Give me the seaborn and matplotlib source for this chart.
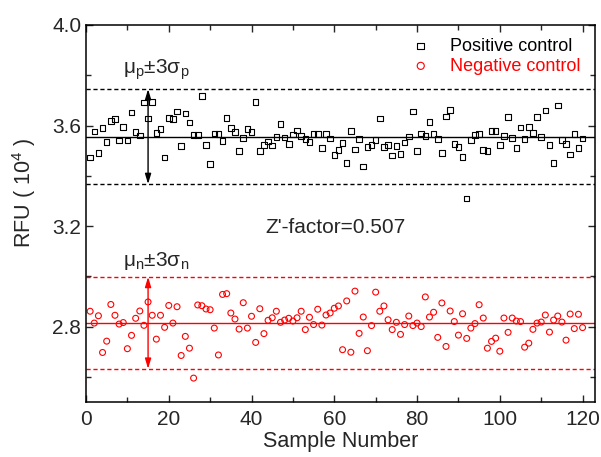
import numpy as np
import seaborn as sns
import matplotlib
matplotlib.use("Agg")
from matplotlib import pyplot as plt
from matplotlib.ticker import MultipleLocator, FormatStrFormatter

# values (RFU, x 10^4)
sample = np.arange(1, 121)

positive = [3.473, 3.577, 3.491, 3.591, 3.534, 3.619, 3.627, 3.541, 3.594, 3.541,
            3.652, 3.575, 3.561, 3.692, 3.628, 3.693, 3.571, 3.587, 3.473, 3.629,
            3.627, 3.655, 3.519, 3.647, 3.612, 3.562, 3.563, 3.718, 3.522, 3.446,
            3.569, 3.567, 3.539, 3.629, 3.591, 3.575, 3.498, 3.550, 3.587, 3.574,
            3.693, 3.498, 3.523, 3.537, 3.521, 3.555, 3.607, 3.553, 3.527, 3.565,
            3.580, 3.558, 3.546, 3.534, 3.566, 3.567, 3.510, 3.567, 3.549, 3.482,
            3.502, 3.531, 3.451, 3.579, 3.505, 3.547, 3.437, 3.515, 3.523, 3.542,
            3.628, 3.515, 3.522, 3.481, 3.519, 3.487, 3.533, 3.557, 3.656, 3.498,
            3.569, 3.558, 3.614, 3.567, 3.547, 3.490, 3.636, 3.661, 3.526, 3.514,
            3.475, 3.310, 3.543, 3.563, 3.567, 3.503, 3.499, 3.578, 3.578, 3.522,
            3.558, 3.635, 3.550, 3.510, 3.592, 3.547, 3.595, 3.571, 3.635, 3.554,
            3.659, 3.523, 3.451, 3.680, 3.542, 3.527, 3.485, 3.567, 3.510, 3.549]

negative = [2.861, 2.814, 2.843, 2.697, 2.742, 2.888, 2.845, 2.810, 2.816, 2.712,
            2.765, 2.833, 2.862, 2.805, 2.898, 2.845, 2.750, 2.845, 2.797, 2.884,
            2.814, 2.879, 2.685, 2.761, 2.714, 2.595, 2.886, 2.883, 2.870, 2.867,
            2.794, 2.687, 2.928, 2.931, 2.854, 2.830, 2.790, 2.895, 2.794, 2.841,
            2.737, 2.871, 2.772, 2.825, 2.835, 2.861, 2.817, 2.826, 2.833, 2.822,
            2.835, 2.861, 2.788, 2.837, 2.808, 2.869, 2.806, 2.846, 2.854, 2.873,
            2.882, 2.708, 2.902, 2.698, 2.941, 2.773, 2.838, 2.704, 2.804, 2.937,
            2.861, 2.882, 2.827, 2.788, 2.817, 2.769, 2.808, 2.842, 2.804, 2.814,
            2.800, 2.918, 2.838, 2.857, 2.757, 2.894, 2.721, 2.862, 2.820, 2.766,
            2.851, 2.753, 2.794, 2.812, 2.887, 2.834, 2.714, 2.741, 2.754, 2.702,
            2.834, 2.777, 2.834, 2.822, 2.820, 2.718, 2.734, 2.789, 2.814, 2.818,
            2.846, 2.778, 2.826, 2.842, 2.818, 2.746, 2.850, 2.792, 2.849, 2.796]

# mean and 3 sigma bands
pos_mean, pos_3sd = 3.556, 0.189
neg_mean, neg_3sd = 2.815, 0.183
zfactor = 0.507
arrow_x = 15

sns.set_style("ticks")
plt.rcParams['font.family'] = ['Liberation Sans', 'DejaVu Sans']
plt.rcParams['mathtext.fontset'] = 'custom'
plt.rcParams['mathtext.rm'] = 'Liberation Sans'
plt.rcParams['mathtext.it'] = 'Liberation Sans'

fig = plt.figure(figsize=(6.01, 4.57), dpi=100)
ax = fig.add_axes([0.1431, 0.1204, 0.8469, 0.8249])

# reference lines
ax.axhline(pos_mean, color="black", lw=1)
ax.axhline(pos_mean + pos_3sd, color="black", lw=1, ls=(0, (3, 2)))
ax.axhline(pos_mean - pos_3sd, color="black", lw=1, ls=(0, (3, 2)))
ax.axhline(neg_mean, color="red", lw=1)
ax.axhline(neg_mean + neg_3sd, color="red", lw=1, ls=(0, (3, 2)))
ax.axhline(neg_mean - neg_3sd, color="red", lw=1, ls=(0, (3, 2)))

sns.scatterplot(x=sample, y=positive, marker="s", s=16, facecolors="none",
                edgecolor="black", linewidth=0.8, label="Positive control", ax=ax)
sns.scatterplot(x=sample, y=negative, marker="o", s=18, facecolors="none",
                edgecolor="red", linewidth=0.8, label="Negative control", ax=ax)

# double arrows
ax.annotate("", xy=(arrow_x, pos_mean + pos_3sd), xytext=(arrow_x, pos_mean - pos_3sd),
            arrowprops=dict(arrowstyle="<|-|>,head_length=0.6,head_width=0.18",
                            color="black", lw=1, shrinkA=0, shrinkB=0))
ax.annotate("", xy=(arrow_x, neg_mean + neg_3sd), xytext=(arrow_x, neg_mean - neg_3sd),
            arrowprops=dict(arrowstyle="<|-|>,head_length=0.6,head_width=0.18",
                            color="red", lw=1, shrinkA=0, shrinkB=0))

ax.text(8.9, 3.772, r"$\mathregular{\mu_p{\pm}3\sigma_p}$", fontsize=15, va="bottom", ha="left")
ax.text(8.9, 3.017, r"$\mathregular{\mu_n{\pm}3\sigma_n}$", fontsize=15, va="bottom", ha="left")
ax.text(43.4, 3.196, f"Z'-factor={zfactor}", fontsize=15, va="center", ha="left")

ax.set_xlim(0, 123)
ax.set_ylim(2.5, 4.0)
ax.xaxis.set_major_locator(MultipleLocator(20))
ax.xaxis.set_minor_locator(MultipleLocator(10))
ax.yaxis.set_major_locator(MultipleLocator(0.4))
ax.yaxis.set_minor_locator(MultipleLocator(0.2))
ax.yaxis.set_major_formatter(FormatStrFormatter("%.1f"))
ax.tick_params(which="both", direction="in", top=True, right=True, labelsize=15, width=1)
ax.tick_params(which="major", length=5)
ax.tick_params(which="minor", length=3.4)
ax.tick_params(axis="x", pad=6)
for sp in ax.spines.values():
    sp.set_linewidth(1.1)
    sp.set_color("black")

ax.set_xlabel("Sample Number", fontsize=15.5, labelpad=1)
ax.set_ylabel("RFU ( 10$^4$ )", fontsize=15.5)
ax.yaxis.set_label_coords(-0.094, 0.554)

leg = ax.legend(loc="upper right", bbox_to_anchor=(0.985, 0.985), frameon=False,
                fontsize=13, handletextpad=0.6, labelspacing=0.15, markerscale=1.2,
                borderaxespad=0)
for txt, c in zip(leg.get_texts(), ["black", "red"]):
    txt.set_color(c)

fig.savefig("out.png", dpi=100)
